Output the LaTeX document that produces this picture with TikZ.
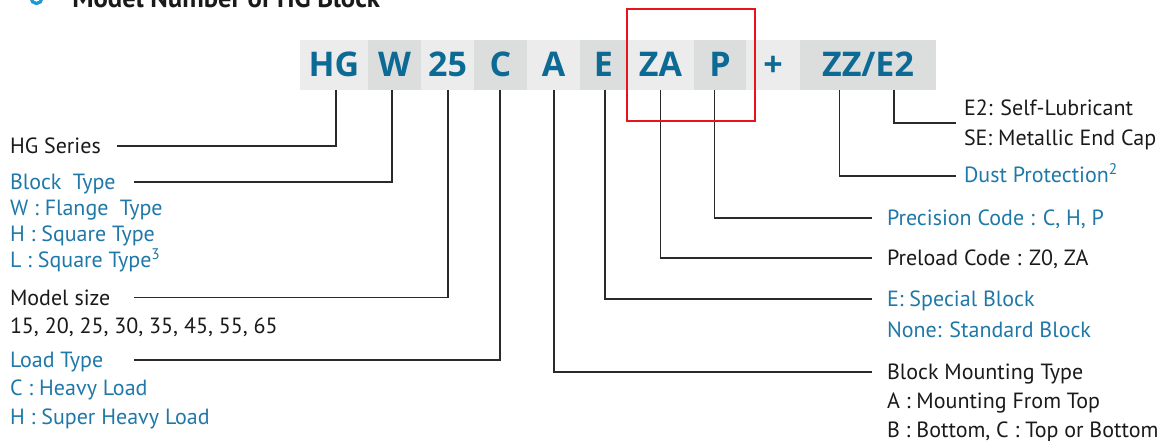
\documentclass[tikz,border=0pt]{standalone}
\usepackage{fontspec}
\setmainfont{PT Sans}
\newfontfamily\codefont{Open Sans}
\definecolor{codeblue}{HTML}{0D6A94}
\definecolor{lblblue}{HTML}{1F78A8}
\definecolor{lblblack}{HTML}{1A1A1A}
\definecolor{boxlight}{HTML}{ECECEC}
\definecolor{boxdark}{HTML}{DCDEDD}
\definecolor{lnc}{HTML}{2A2A2A}
\definecolor{hred}{HTML}{E8141C}
\definecolor{iconblue}{HTML}{1A9AD6}
\begin{document}
\begin{tikzpicture}[x=0.75pt,y=-0.75pt,
  codebox/.style={anchor=north west, inner sep=0pt, outer sep=0pt,
    minimum height=37.5pt, text height=17.6pt, text depth=0pt,
    font=\codefont\bfseries\fontsize{25.5}{25.5}\selectfont, text=codeblue},
  lbl/.style={anchor=west, inner sep=0pt, outer sep=0pt, text height=11.5pt, text depth=0pt,
    font=\fontsize{16.5}{16.5}\selectfont, text=lblblack},
  blbl/.style={lbl, text=lblblue},
  conn/.style={draw=lnc, line width=1pt}]
\useasboundingbox (0,0) rectangle (1173,441);
% header (cut at top)
\draw[iconblue, line width=2.4pt] (36.5,-2) circle[radius=5.5];
\node[anchor=base west, inner sep=0pt, font=\bfseries\fontsize{20}{20}\selectfont, text=lblblack] (title) at (72,7.5) {Model Number of HG Block};
% code boxes
\node[codebox, fill=boxlight, minimum width=51pt] (hg) at (300,40) {HG};
\node[codebox, fill=boxdark, minimum width=39.75pt] (w) at (368,40) {W};
\node[codebox, fill=boxlight, minimum width=39.75pt] (sz) at (421,40) {25};
\node[codebox, fill=boxdark, minimum width=39.75pt] (c) at (474,40) {C};
\node[codebox, fill=boxlight, minimum width=39.75pt] (a) at (527,40) {A};
\node[codebox, fill=boxdark, minimum width=35.25pt] (e) at (580,40) {E};
\node[codebox, fill=boxlight, minimum width=50.25pt] (za) at (627,40) {ZA};
\node[codebox, fill=boxdark, minimum width=39pt] (p) at (694,40) {P};
\node[codebox, fill=boxlight, minimum width=40.5pt] (plus) at (746,40) {+};
\node[codebox, fill=boxdark, minimum width=102pt] (zz) at (800,40) {ZZ/E2};
% left labels
\node[lbl] (hgser) at (10,146) {HG Series};
\node[blbl] (btype) at (10,182) {Block\hspace{0.25em} Type};
\node[blbl] (bt1) at (10,207.5) {W : Flange\hspace{0.25em} Type};
\node[blbl] (bt2) at (10,233.5) {H : Square Type};
\node[blbl] (bt3) at (10,260) {L : Square Type\textsuperscript{3}};
\node[lbl] (msize) at (10,297.5) {Model size};
\node[lbl] (ms1) at (10,326) {15, 20, 25, 30, 35, 45, 55, 65};
\node[blbl] (ltype) at (10,360) {Load Type};
\node[blbl] (lt1) at (10,388) {C : Heavy Load};
\node[blbl] (lt2) at (10,417) {H : Super Heavy Load};
% right labels
\node[lbl] (e2) at (964,108) {E2: Self-Lubricant};
\node[lbl] (se) at (964,138) {SE: Metallic End Cap};
\node[blbl] (dust) at (964,175) {Dust Protection\textsuperscript{2}};
\node[blbl] (prec) at (887,217.5) {Precision Code : C, H, P};
\node[lbl] (prel) at (887,258) {Preload Code : Z0, ZA};
\node[blbl] (spec) at (887,299) {E: Special Block};
\node[blbl] (std) at (887,330) {None: Standard Block};
\node[lbl] (mount) at (887,372) {Block Mounting Type};
\node[lbl] (m1) at (887,401) {A : Mounting From Top};
\node[lbl] (m2) at (887,430) {B : Bottom, C : Top or Bottom};
% connector ends
\coordinate (hgEnd) at (117,146);
\coordinate (wEnd) at (134,182);
\coordinate (szEnd) at (134,297.5);
\coordinate (cEnd) at (134,360);
\coordinate (aEnd) at (872,372);
\coordinate (eEnd) at (872,299);
\coordinate (zaEnd) at (872,258);
\coordinate (pEnd) at (872,218);
\coordinate (zzEnd) at (956,176);
\coordinate (e2End) at (956,123);
% connectors
\draw[conn] ([xshift=1.5pt]hg.south) |- (hgEnd);
\draw[conn] ([xshift=-1.9pt]w.south) |- (wEnd);
\draw[conn] ([xshift=0.4pt]sz.south) |- (szEnd);
\draw[conn] ([xshift=-0.4pt]c.south) |- (cEnd);
\draw[conn] ([xshift=0.4pt]a.south) |- (aEnd);
\draw[conn] ([xshift=1.1pt]e.south) |- (eEnd);
\draw[conn] (za.south) |- (zaEnd);
\draw[conn] ([xshift=-4.1pt]p.south) |- (pEnd);
\draw[conn] ([xshift=-21.4pt]zz.south) |- (zzEnd);
\draw[conn] ([xshift=19.5pt]zz.south) |- (e2End);
% highlight
\coordinate (hlA) at (627,9);
\coordinate (hlB) at (755,121);
\draw[hred, line width=1.6pt] (hlA) rectangle (hlB);
\end{tikzpicture}
\end{document}
